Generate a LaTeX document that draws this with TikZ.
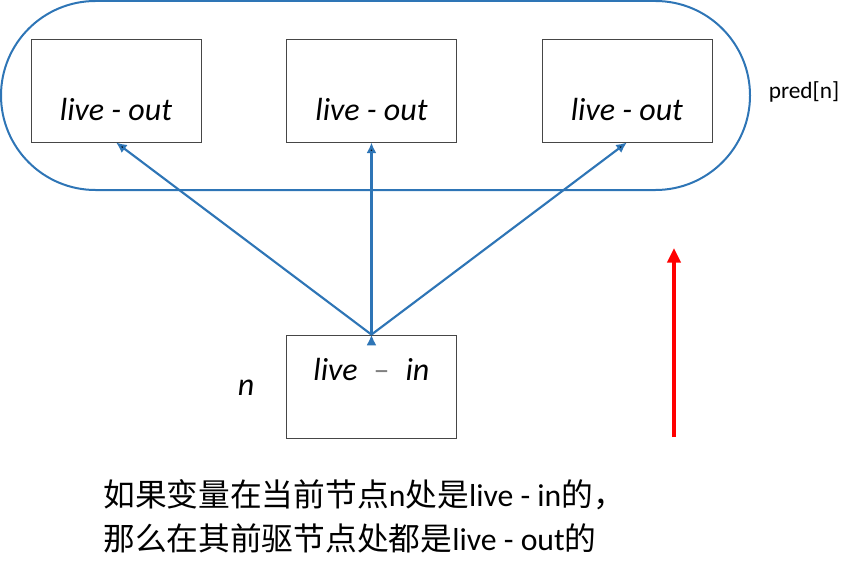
\documentclass[tikz,border=0pt]{standalone}
\usepackage{fontspec}
\setmainfont{Carlito}
\newfontfamily\cjk{Noto Sans CJK SC}
\usetikzlibrary{positioning,shapes.misc,arrows.meta}

\definecolor{predblue}{RGB}{46,117,182}
\definecolor{boxgray}{RGB}{70,70,70}

\tikzset{
  block/.style={draw=boxgray,line width=0.6pt,minimum width=127.5pt,minimum height=77.25pt,inner sep=0pt},
  livetext/.style={font=\fontsize{24}{28}\selectfont\itshape,inner sep=0pt},
  flow/.style={-{Latex[length=8pt,width=7.5pt]},draw=predblue,line width=1.6pt},
  notetext/.style={font=\fontsize{23.8}{28}\selectfont,inner sep=0pt,anchor=west}
}

\begin{document}
\begin{tikzpicture}[x=0.75pt,y=-0.75pt,node distance=191.6pt,on grid]
  \useasboundingbox (0,0) rectangle (841,560);

  % predecessors of n
  \node[rounded rectangle,draw=predblue,line width=1.5pt,minimum width=561.75pt,
        minimum height=141.75pt,inner sep=0pt]	(pred)	at (375.5,95.5)	{};
  \node[font=\fontsize{17.5}{20}\selectfont]	(predname)	at (804,92)	{pred[n]};

  \node[block,label={[livetext,yshift=-14.6pt]center:live - out}]	(out1)	at (116,90.5)	{};
  \node[block,label={[livetext,yshift=-14.6pt]center:live - out}]	(out2)	[right=of out1]	{};
  \node[block,label={[livetext,yshift=-14.6pt]center:live - out}]	(out3)	[right=of out2]	{};

  % the node n
  \node[block,label={[livetext,yshift=13pt]center:live\enspace{\upshape\color{gray}–}\enspace in}]
        (in)	[below=222pt of out2]	{};
  \node[livetext]	(nname)	at (246,388)	{n};

  \path[flow]
     (in.north)	edge	(out1.south)
               	edge	(out2.south)
               	edge	(out3.south)
  ;

  % direction of the flow
  \coordinate (up0) at (674,437);
  \coordinate (up1) at (674,248);
  \draw[-{Triangle[length=11pt,width=10pt]},red,line width=2.4pt] (up0) -- (up1);

  \node[notetext]	(note1)	at (103,495)	{{\cjk 如果变量在当前节点}n{\cjk 处是}live - in{\cjk 的，}};
  \node[notetext]	(note2)	at (103,538)	{{\cjk 那么在其前驱节点处都是}live - out{\cjk 的}};
\end{tikzpicture}
\end{document}
